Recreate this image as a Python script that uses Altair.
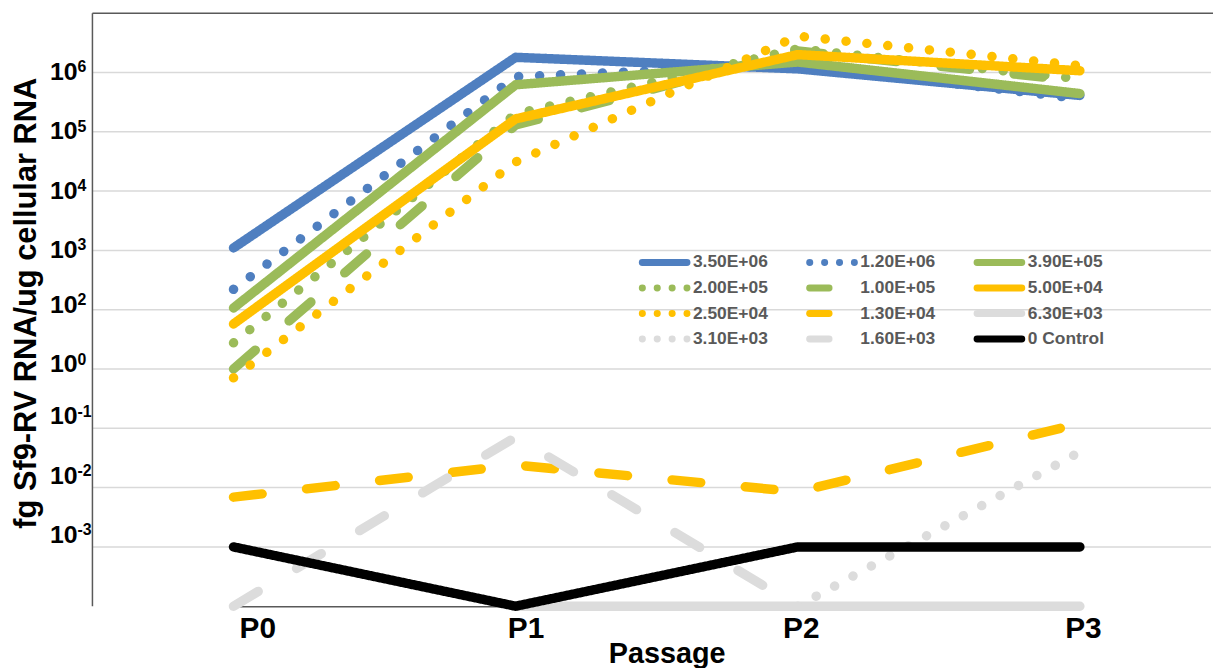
import altair as alt
import pandas as pd

# ---------------- data ----------------
passages = ["P0", "P1", "P2", "P3"]
series = ["3.50E+06", "1.20E+06", "3.90E+05", "2.00E+05", "1.00E+05", "5.00E+04",
          "2.50E+04", "1.30E+04", "6.30E+03", "3.10E+03", "1.60E+03", "0 Control"]
colors = ["#4F7FC0", "#4F7FC0", "#9BBB59", "#9BBB59", "#9BBB59", "#FFC000",
          "#FFC000", "#FFC000", "#DCDCDC", "#DCDCDC", "#DCDCDC", "#000000"]
styles = ["solid", "dotted", "solid", "dotted", "dashed", "solid",
          "dotted", "dashed", "solid", "dotted", "dashed", "solid"]

# values as read against the printed axis labels (None = not plotted)
s_3_50e6 = [1.1e3, 1.8e6, 1.15e6, 4.1e5]
s_1_20e6 = [2.2e2, 8.5e5, 1.35e6, 3.6e5]
s_3_90e5 = [1.07e2, 6.2e5, 1.5e6, 4.4e5]
s_2_00e5 = [7.6, 2.0e5, 2.5e6, 7.8e5]
s_1_00e5 = [1.0, 1.3e5, 2.3e6, 7.2e5]
s_5_00e4 = [33.0, 1.65e5, 2.0e6, 1.07e6]
s_2_50e4 = [0.71, 3.1e4, 4.1e6, 1.3e6]
s_1_30e4 = [6.9e-3, 2.4e-2, 8.5e-3, 1.2e-1]
s_6_30e3 = [None, 1e-4, 1e-4, 1e-4]
s_3_10e3 = [None, None, 1e-4, 4.0e-2]
s_1_60e3 = [1e-4, 7.1e-2, 1e-4, None]
s_control = [1e-3, 1e-4, 1e-3, 1e-3]

all_values = [s_3_50e6, s_1_20e6, s_3_90e5, s_2_00e5, s_1_00e5, s_5_00e4,
              s_2_50e4, s_1_30e4, s_6_30e3, s_3_10e3, s_1_60e3, s_control]

# printed y tick labels (10^exp) - the chart skips 10^1
tick_values = [1e-3, 1e-2, 1e-1, 1, 1e2, 1e3, 1e4, 1e5, 1e6]
tick_exps = ["-3", "-2", "-1", "0", "2", "3", "4", "5", "6"]

# ---------------- tables ----------------
rows = []
for name, vals in zip(series, all_values):
    for p, v in zip(passages, vals):
        rows.append({"series": name, "passage": p, "v": v})
df = pd.DataFrame(rows)

ticks_df = pd.DataFrame({"t": tick_values, "e": tick_exps})
leg_df = pd.DataFrame({"series": series, "style": styles, "idx": list(range(len(series)))})

# position on the drawn gridline scale: 10^0..10^2 share one grid step
POS_EXPR = ("datum.{f} == null ? null : (datum.{f} <= 1 ? datum.{f} : "
            "(datum.{f} < 100 ? pow(10, log(datum.{f}) / LN10 / 2) : datum.{f} / 10))")

# ---------------- style ----------------
FONT = "Liberation Sans"
W, H = 1126, 597
AXIS_COLOR = "#595959"
dash_map = {"solid": [1, 0], "dotted": [0.1, 21], "dashed": [29, 45]}
leg_dash = {"solid": [1, 0], "dotted": [0.1, 14.9], "dashed": [19.5, 40]}

color_scale = alt.Scale(domain=series, range=colors)
y_scale = alt.Scale(type="log", domain=[1e-4, 1e6])
x_scale = alt.Scale(type="point", domain=passages, range=[142, 994], padding=0)

# gridlines (behind everything)
tick_base = alt.Chart(ticks_df).transform_calculate(pos=POS_EXPR.format(f="t"))
grid = tick_base.mark_rule(color="#D9D9D9", strokeWidth=1.5).encode(
    x=alt.value(0), x2=alt.value(W),
    y=alt.Y("pos:Q", scale=y_scale, axis=None),
)

lines = alt.Chart(df).transform_calculate(
    pos=POS_EXPR.format(f="v")
).mark_line(strokeWidth=9.5, strokeCap="round", strokeJoin="round").encode(
    x=alt.X("passage:N", scale=x_scale, sort=passages,
            axis=alt.Axis(title="Passage", labelAngle=0, labelFont=FONT, labelFontSize=30,
                          labelFontWeight="bold", labelColor="black", labelPadding=7,
                          ticks=False, tickSize=0, grid=False,
                          domainColor=AXIS_COLOR, domainWidth=1.5,
                          labelOffset={"condition": [{"test": "datum.value === 'P0'", "value": 24},
                                                     {"test": "datum.value === 'P1'", "value": 10}],
                                       "value": 3},
                          titleFont=FONT, titleFontSize=29, titleFontWeight="bold",
                          titleColor="black", titleX=578, titleY=57,
                          titleBaseline="alphabetic", titleAlign="center")),
    y=alt.Y("pos:Q", scale=y_scale, axis=None),
    color=alt.Color("series:N", scale=color_scale, legend=None),
    strokeDash=alt.StrokeDash("series:N",
                              scale=alt.Scale(domain=series, range=[dash_map[s] for s in styles]),
                              legend=None),
)

frame_df = pd.DataFrame({"a": [0]})
top_rule = alt.Chart(frame_df).mark_rule(color=AXIS_COLOR, strokeWidth=1.5).encode(
    x=alt.value(0), x2=alt.value(W + 3), y=alt.value(0)
)
left_rule = alt.Chart(frame_df).mark_rule(color=AXIS_COLOR, strokeWidth=1.5).encode(
    x=alt.value(0), y=alt.value(0), y2=alt.value(H)
)
y_title = alt.Chart(frame_df).mark_text(
    text="fg Sf9-RV RNA/ug cellular RNA", angle=270, align="center", baseline="alphabetic",
    font=FONT, fontSize=31, fontWeight="bold", color="black"
).encode(x=alt.value(-57), y=alt.value(292))

# tick labels: "10" + raised exponent; the printed labels sit a little higher
# above their gridlines towards the bottom of the axis
label_groups = [("datum.t < 1", -4), ("datum.t >= 1 && datum.t <= 100", 3), ("datum.t > 100", 7.5)]
tick_layers = []
for test, dy in label_groups:
    grp = tick_base.transform_filter(test)
    tick_layers.append(
        grp.mark_text(text="10", align="right", baseline="alphabetic", dy=dy,
                      font=FONT, fontSize=25, fontWeight="bold", color="black").encode(
            x=alt.value(-15),
            y=alt.Y("pos:Q", scale=y_scale, axis=None),
        )
    )
    tick_layers.append(
        grp.mark_text(align="left", baseline="alphabetic", dy=dy - 7.5,
                      font=FONT, fontSize=16, fontWeight="bold", color="black").encode(
            x=alt.value(-15),
            y=alt.Y("pos:Q", scale=y_scale, axis=None),
            text="e:N",
        )
    )

leg_base = (alt.Chart(leg_df)
            .transform_calculate(col="datum.idx % 3")
            .transform_calculate(row="floor(datum.idx / 3)")
            .transform_calculate(lx0="553.5 + datum.col * 168.5")
            .transform_calculate(lx1="datum.lx0 + 45")
            .transform_calculate(tx="datum.lx0 + 51")
            .transform_calculate(ly="251 + datum.row * 25.7"))

leg_rules = []
for st in ["solid", "dotted", "dashed"]:
    leg_rules.append(
        leg_base.transform_filter(f"datum.style == '{st}'")
        .mark_rule(strokeWidth=7, strokeCap="round", strokeDash=leg_dash[st])
        .encode(
            x=alt.X("lx0:Q", scale=None, axis=None),
            x2="lx1:Q",
            y=alt.Y("ly:Q", scale=None, axis=None),
            color=alt.Color("series:N", scale=color_scale, legend=None),
        )
    )

leg_text = leg_base.mark_text(align="left", baseline="middle", font=FONT, fontSize=17.5,
                              fontWeight="bold", color=AXIS_COLOR).encode(
    x=alt.X("tx:Q", scale=None, axis=None),
    y=alt.Y("ly:Q", scale=None, axis=None),
    text="series:N",
)

chart = alt.layer(grid, left_rule, lines, top_rule, y_title, *tick_layers,
                  *leg_rules, leg_text).properties(
    width=W, height=H,
    padding={"left": 85, "top": 3, "right": 2, "bottom": 60},
    autosize=alt.AutoSizeParams(type="none"),
).configure_view(stroke=None)

chart.save("out.html", embed_options={"renderer": "svg", "actions": False})
